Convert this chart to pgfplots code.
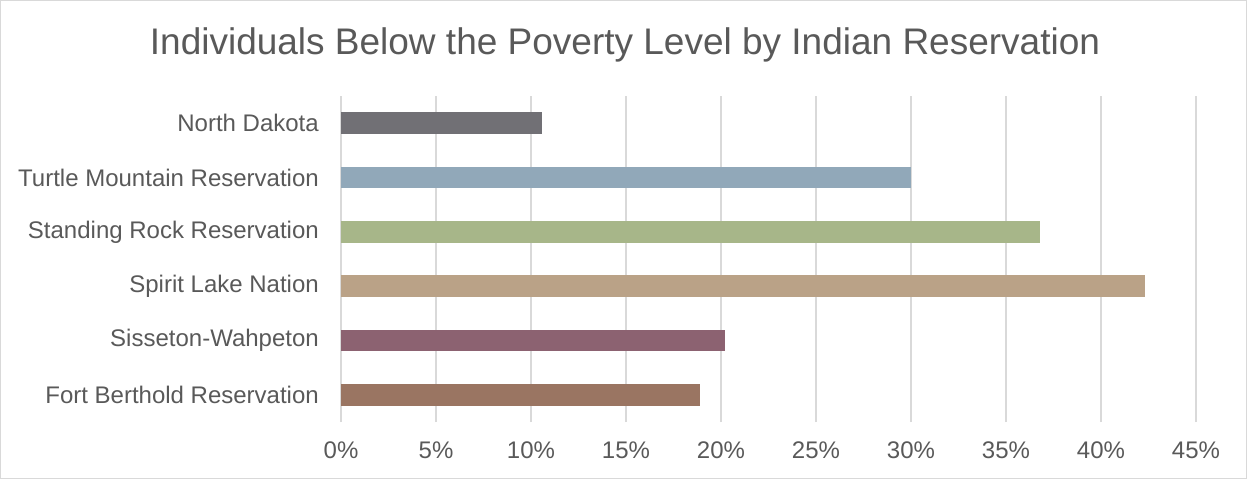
\documentclass[border=0pt]{standalone}
\usepackage{pgfplots}
\pgfplotsset{compat=1.18}
\usepackage{fontspec}
\setmainfont{Liberation Sans}
\definecolor{txt}{HTML}{595959}
\definecolor{gridc}{HTML}{D9D9D9}
\definecolor{cND}{HTML}{717075}
\definecolor{cTM}{HTML}{91A8B9}
\definecolor{cSR}{HTML}{A7B689}
\definecolor{cSL}{HTML}{BAA287}
\definecolor{cSW}{HTML}{8C6271}
\definecolor{cFB}{HTML}{9A7562}
\begin{document}
\begin{tikzpicture}
\useasboundingbox (0,0) rectangle (1247bp,479bp);
\draw[gridc, line width=1bp] (0.5bp,0.5bp) rectangle (1246.5bp,478.5bp);
\begin{axis}[
  at={(341bp,57bp)}, anchor=south west,
  scale only axis, width=855bp, height=326bp,
  xmin=0, xmax=45, ymin=-0.5, ymax=5.5,
  xtick={0,5,...,45},
  xticklabels={0\%,5\%,10\%,15\%,20\%,25\%,30\%,35\%,40\%,45\%},
  ytick={0,1,2,3,4,5},
  yticklabels={Fort Berthold Reservation,Sisseton-Wahpeton,Spirit Lake Nation,Standing Rock Reservation,Turtle Mountain Reservation,North Dakota},
  major tick length=0pt,
  axis line style={draw=none},
  xmajorgrids, ymajorgrids=false,
  grid style={draw=gridc, line width=1.3bp},
  xticklabel style={font=\fontsize{24bp}{28bp}\selectfont, text=txt, anchor=north, inner sep=0pt, yshift=-20bp},
  yticklabel style={font=\fontsize{24bp}{28bp}\selectfont, text=txt, anchor=east, inner sep=0pt, xshift=-22bp},
  xbar, bar width=0.4, bar shift=0pt,
  clip=false,
]
\addplot[fill=cFB, draw=none] coordinates {(18.9,0)};
\addplot[fill=cSW, draw=none] coordinates {(20.2,1)};
\addplot[fill=cSL, draw=none] coordinates {(42.3,2)};
\addplot[fill=cSR, draw=none] coordinates {(36.8,3)};
\addplot[fill=cTM, draw=none] coordinates {(30.0,4)};
\addplot[fill=cND, draw=none] coordinates {(10.6,5)};
\end{axis}
\node[anchor=base, text=txt, font=\fontsize{37bp}{44bp}\selectfont, inner sep=0pt] at (625bp,424bp) {Individuals Below the Poverty Level by Indian Reservation};
\end{tikzpicture}
\end{document}
